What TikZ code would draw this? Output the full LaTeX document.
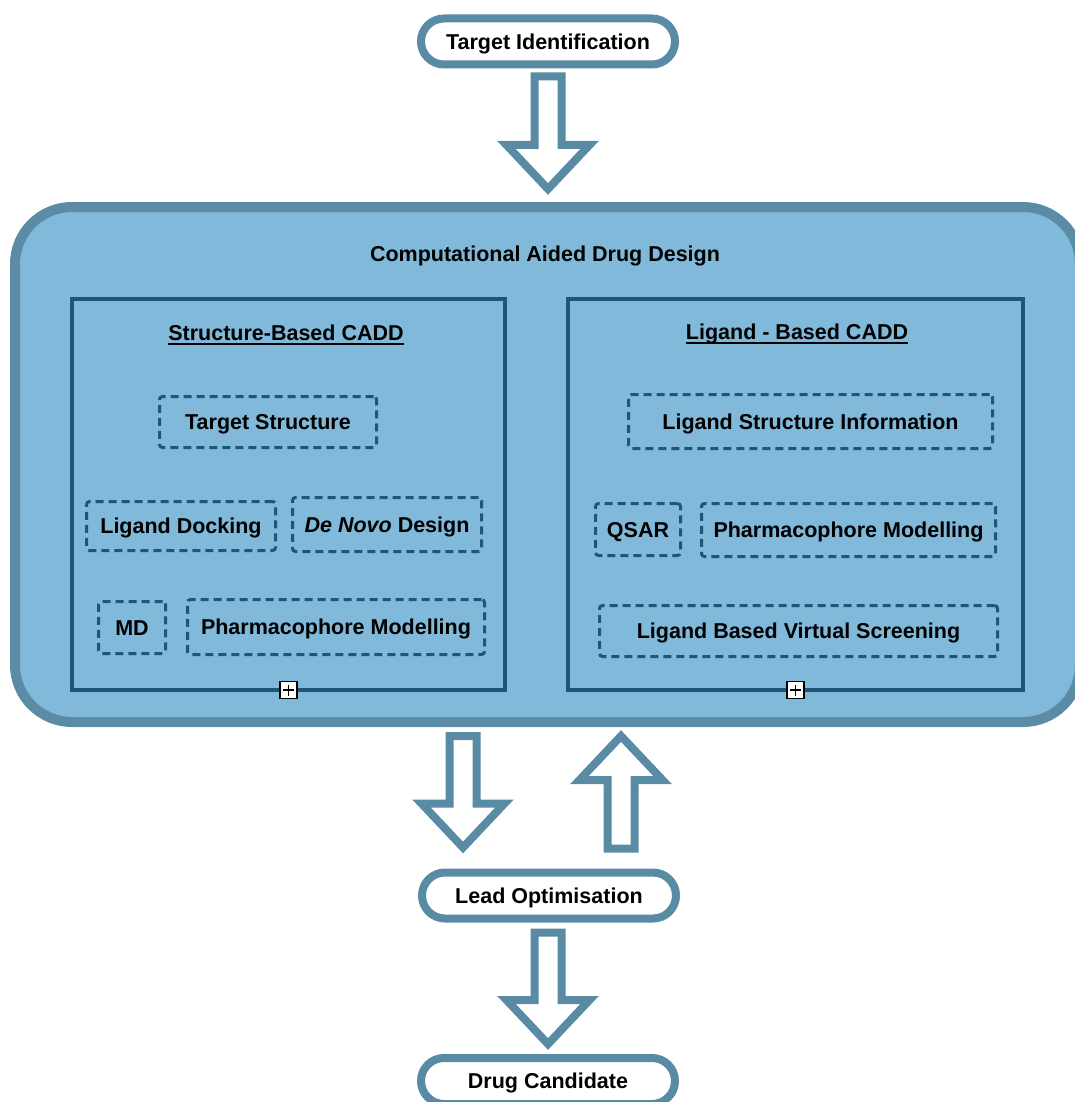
\documentclass[tikz,border=0pt]{standalone}
\usepackage{fontspec}
\setmainfont{Liberation Sans}
\usetikzlibrary{calc}
\definecolor{pillc}{HTML}{5A8BA4}
\definecolor{caddfill}{HTML}{80B9DA}
\definecolor{caddline}{HTML}{5C8CA5}
\definecolor{darkb}{HTML}{1E5678}
\newcommand\blockarrow[2]{%
  \draw[blk] let \p1=(#1), \p2=(#2), \p3=($(#2)!44pt!(#1)$) in
    (\x1-13.5pt,\y1) -- (\x1-13.5pt,\y3) -- (\x1-41.5pt,\y3) -- (\x1,\y2)
    -- (\x1+41.5pt,\y3) -- (\x1+13.5pt,\y3) -- (\x1+13.5pt,\y1) -- cycle;}
\begin{document}
\begin{tikzpicture}[x=1pt,y=-1pt,
  every node/.style={outer sep=0pt, inner sep=0pt, text depth=0pt, text height=15.4pt,
    font=\fontsize{21.5}{25}\selectfont\bfseries},
  pill/.style={draw=pillc, line width=8, fill=white, rounded corners=23,
    minimum width=254, minimum height=46},
  bigbox/.style={draw=caddline, line width=10, fill=caddfill, rounded corners=57,
    minimum width=1065, minimum height=515},
  panel/.style={draw=darkb, line width=4.5},
  dbox/.style={draw=darkb, line width=3, dash pattern=on 8pt off 5pt, rounded corners=3},
  plusbox/.style={draw=black, fill=white, line width=1.2, minimum size=17,
    path picture={
      \draw[line width=1.2] ([yshift=-3pt]path picture bounding box.north) -- ([yshift=3pt]path picture bounding box.south);
      \draw[line width=1.2] ([xshift=3pt]path picture bounding box.west) -- ([xshift=-3pt]path picture bounding box.east);}},
  blk/.style={draw=pillc, fill=white, line width=8, line join=miter},
  uline/.style={line width=1.5, black},
]
\clip (0,0) rectangle (1075,1102);
\useasboundingbox (0,0) rectangle (1075,1102);
\fill[white] (0,0) rectangle (1075,1102);

% outer pills
\node[pill] (ti) at (548,41.5) {Target Identification};
\node[pill] (lo) at (549,895.5) {Lead Optimisation};
\node[pill] (dc) at (548,1081) {Drug Candidate};

% big CADD box
\node[bigbox] (cadd) at (547.5,464.5) {};
\node (title) at (545,254) {Computational Aided Drug Design};

% panels
\node[panel, minimum width=433, minimum height=391] (sb) at (288.5,494.5) {};
\node[panel, minimum width=455, minimum height=391] (lb) at (795.5,494.5) {};

\node (sbh) at (286,333) {Structure-Based CADD};
\node (lbh) at (797,332) {Ligand - Based CADD};
\draw[uline] ($(sbh.south west)+(0,3.5)$) -- ($(sbh.south east)+(0,3.5)$);
\draw[uline] ($(lbh.south west)+(0,3.5)$) -- ($(lbh.south east)+(0,3.5)$);

% structure-based items
\node[dbox, minimum width=217, minimum height=51] (ts) at (268,422) {Target Structure};
\node[dbox, minimum width=189, minimum height=49] (ld) at (181,526) {Ligand Docking};
\node[dbox, minimum width=189, minimum height=54] (dn) at (387,524.5) {\itshape De Novo\upshape{} Design};
\node[dbox, minimum width=67, minimum height=52] (md) at (132,627.5) {MD};
\node[dbox, minimum width=297, minimum height=55] (pml) at (336,627) {Pharmacophore Modelling};

% ligand-based items
\node[dbox, minimum width=364, minimum height=54] (lsi) at (810.5,421.5) {Ligand Structure Information};
\node[dbox, minimum width=85, minimum height=52] (qsar) at (638,529.5) {QSAR};
\node[dbox, minimum width=294, minimum height=53] (pmr) at (848.5,530) {Pharmacophore Modelling};
\node[dbox, minimum width=398, minimum height=51] (lbvs) at (798.5,631) {Ligand Based Virtual Screening};

% expand markers
\node[plusbox] (p1) at (sb.south) {};
\node[plusbox] (p2) at (lb.south) {};

% block arrows
\coordinate (a1s) at ($(ti.south)+(0,12)$);
\coordinate (a1t) at ($(a1s |- cadd.north)+(0,-18)$);
\blockarrow{a1s}{a1t}

\coordinate (a2s) at ($(cadd.south)+(-84.5,14)$);
\coordinate (a2t) at ($(a2s |- lo.north)+(0,-25)$);
\blockarrow{a2s}{a2t}

\coordinate (a3s) at ($(lo.north)+(72,-24)$);
\coordinate (a3t) at ($(a3s |- cadd.south)+(0,14)$);
\blockarrow{a3s}{a3t}

\coordinate (a4s) at ($(lo.south)+(-1,14)$);
\coordinate (a4t) at ($(a4s |- dc.north)+(0,-14)$);
\blockarrow{a4s}{a4t}
\end{tikzpicture}
\end{document}
